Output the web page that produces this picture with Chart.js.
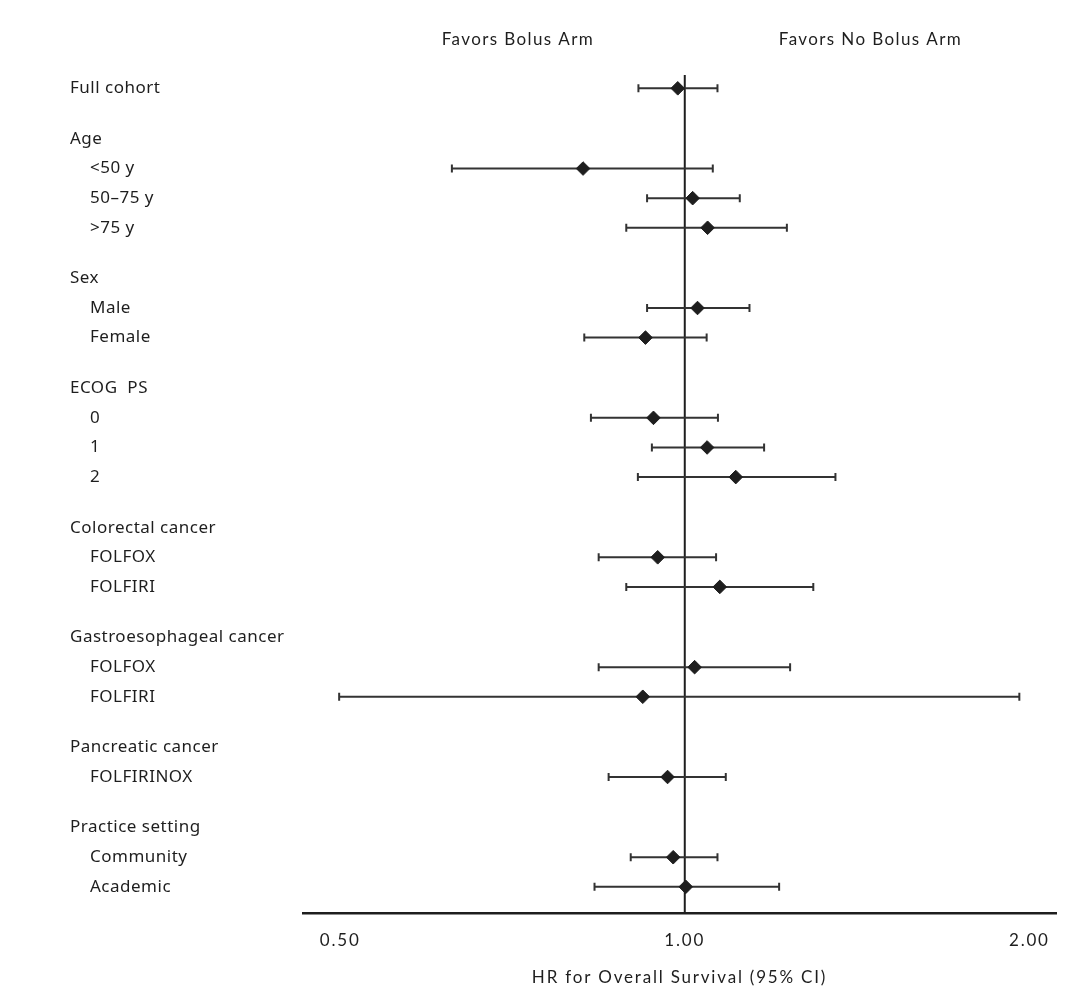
<!DOCTYPE html>
<html lang="en">
<head>
  <meta charset="UTF-8">
  <title>HR for Overall Survival</title>
  <style>
    body { margin: 0; background: #fff; }
    #wrap { width: 1080px; height: 1005px; position: relative; }
  </style>
  <script src="https://cdn.jsdelivr.net/npm/chart.js"></script>
</head>
<body>
  <div id="wrap"><canvas id="forest"></canvas></div>

  <script>
    // rows, top to bottom
    const rowLabels = ['Full cohort',
      'Age', '<50 y', '50\u201375 y', '>75 y',
      'Sex', 'Male', 'Female',
      'ECOG  PS', '0', '1', '2',
      'Colorectal cancer', 'FOLFOX', 'FOLFIRI',
      'Gastroesophageal cancer', 'FOLFOX', 'FOLFIRI',
      'Pancreatic cancer', 'FOLFIRINOX',
      'Practice setting', 'Community', 'Academic'];
    // 1 = subgroup (indented), 0 = heading
    const rowLevel = [0, 0, 1, 1, 1, 0, 1, 1, 0, 1, 1, 1, 0, 1, 1, 0, 1, 1, 0, 1, 0, 1, 1];

    const hrEst  = [0.986, null, 0.815, 1.016, 1.047, null, 1.026, 0.924, null, 0.939, 1.046, 1.108,
                    null, 0.947, 1.073, null, 1.020, 0.919, null, 0.966, null, 0.977, 1.002];
    const ciLow  = [0.911, null, 0.626, 0.927, 0.889, null, 0.927, 0.817, null, 0.828, 0.936, 0.910,
                    null, 0.841, 0.889, null, 0.841, 0.499, null, 0.858, null, 0.897, 0.834];
    const ciHigh = [1.068, null, 1.058, 1.117, 1.228, null, 1.139, 1.045, null, 1.069, 1.173, 1.354,
                    null, 1.065, 1.295, null, 1.236, 1.960, null, 1.086, null, 1.068, 1.209];

    const xTicks = [0.5, 1, 2];
    const headers = ['Favors Bolus Arm', 'Favors No Bolus Arm'];

    const FONT = 'Lato, "Noto Sans", sans-serif';
    const LABEL_FONT = '"Noto Sans", Lato, sans-serif';
    const INK = '#1e1e1e';

    // row positions: one unit per row, a bit extra before each new heading
    const rowPos = [];
    let p = 0;
    rowLabels.forEach((_, i) => {
      if (i > 0) p += 1 + (rowLevel[i] === 0 ? 0.71 : 0);
      rowPos.push(p);
    });
    const yMin = -0.45, yMax = p + 0.89;

    const ciData = [], pointData = [];
    rowLabels.forEach((_, i) => {
      if (hrEst[i] == null) return;
      ciData.push({ x: ciLow[i], y: rowPos[i] }, { x: ciHigh[i], y: rowPos[i] }, { x: null, y: null });
      pointData.push({ x: hrEst[i], y: rowPos[i] });
    });

    // the axis text in the original is tracked out a little
    const trackingPlugin = {
      id: 'tracking',
      beforeDraw(chart) { chart.ctx.letterSpacing = '1.8px'; },
      beforeDatasetsDraw(chart) { chart.ctx.letterSpacing = '0px'; }
    };

    const textPlugin = {
      id: 'forestText',
      afterDraw(chart) {
        const { ctx, scales: { x, y } } = chart;
        ctx.save();
        ctx.fillStyle = INK;
        ctx.textBaseline = 'middle';
        ctx.font = '17px ' + LABEL_FONT;
        ctx.textAlign = 'left';
        ctx.letterSpacing = '0.5px';
        rowLabels.forEach((lab, i) => {
          ctx.fillText(lab, rowLevel[i] ? 90 : 70, y.getPixelForValue(rowPos[i]));
        });
        ctx.font = '17px ' + FONT;
        ctx.textAlign = 'center';
        ctx.letterSpacing = '1.4px';
        ctx.fillText(headers[0], x.getPixelForValue(0.715), 40);
        ctx.fillText(headers[1], x.getPixelForValue(1.453), 40);
        ctx.restore();
      }
    };

    new Chart(document.getElementById('forest'), {
      type: 'scatter',
      data: {
        datasets: [
          {
            type: 'line',
            data: [{ x: 1, y: yMin }, { x: 1, y: yMax }],
            borderColor: INK,
            borderWidth: 2,
            pointRadius: 0,
            order: 3
          },
          {
            type: 'line',
            data: ciData,
            borderColor: '#333',
            borderWidth: 2,
            spanGaps: false,
            pointStyle: 'line',
            pointRotation: 90,
            pointRadius: 4,
            pointBorderWidth: 2,
            pointBorderColor: '#333',
            order: 2
          },
          {
            data: pointData,
            pointStyle: 'rectRot',
            pointRadius: 6.8,
            backgroundColor: INK,
            borderColor: INK,
            borderWidth: 1,
            order: 1
          }
        ]
      },
      options: {
        responsive: true,
        maintainAspectRatio: false,
        animation: false,
        layout: { padding: { left: 303, right: 24, top: 75, bottom: 17 } },
        plugins: { legend: { display: false }, tooltip: { enabled: false } },
        scales: {
          x: {
            type: 'logarithmic',
            min: 0.464,
            max: 2.11,
            afterBuildTicks: s => { s.ticks = xTicks.map(v => ({ value: v })); },
            ticks: {
              callback: v => Number(v).toFixed(2),
              font: { family: FONT, size: 17 },
              color: INK,
              padding: 17,
              autoSkip: false,
              maxRotation: 0
            },
            grid: { display: false, drawTicks: false },
            border: { display: true, color: INK, width: 2.5 },
            title: {
              display: true,
              text: 'HR for Overall Survival (95% CI)',
              font: { family: FONT, size: 17 },
              color: INK,
              padding: { top: 0, bottom: 0 }
            }
          },
          y: {
            type: 'linear',
            reverse: true,
            min: yMin,
            max: yMax,
            display: false
          }
        }
      },
      plugins: [trackingPlugin, textPlugin]
    });
  </script>
</body>
</html>
